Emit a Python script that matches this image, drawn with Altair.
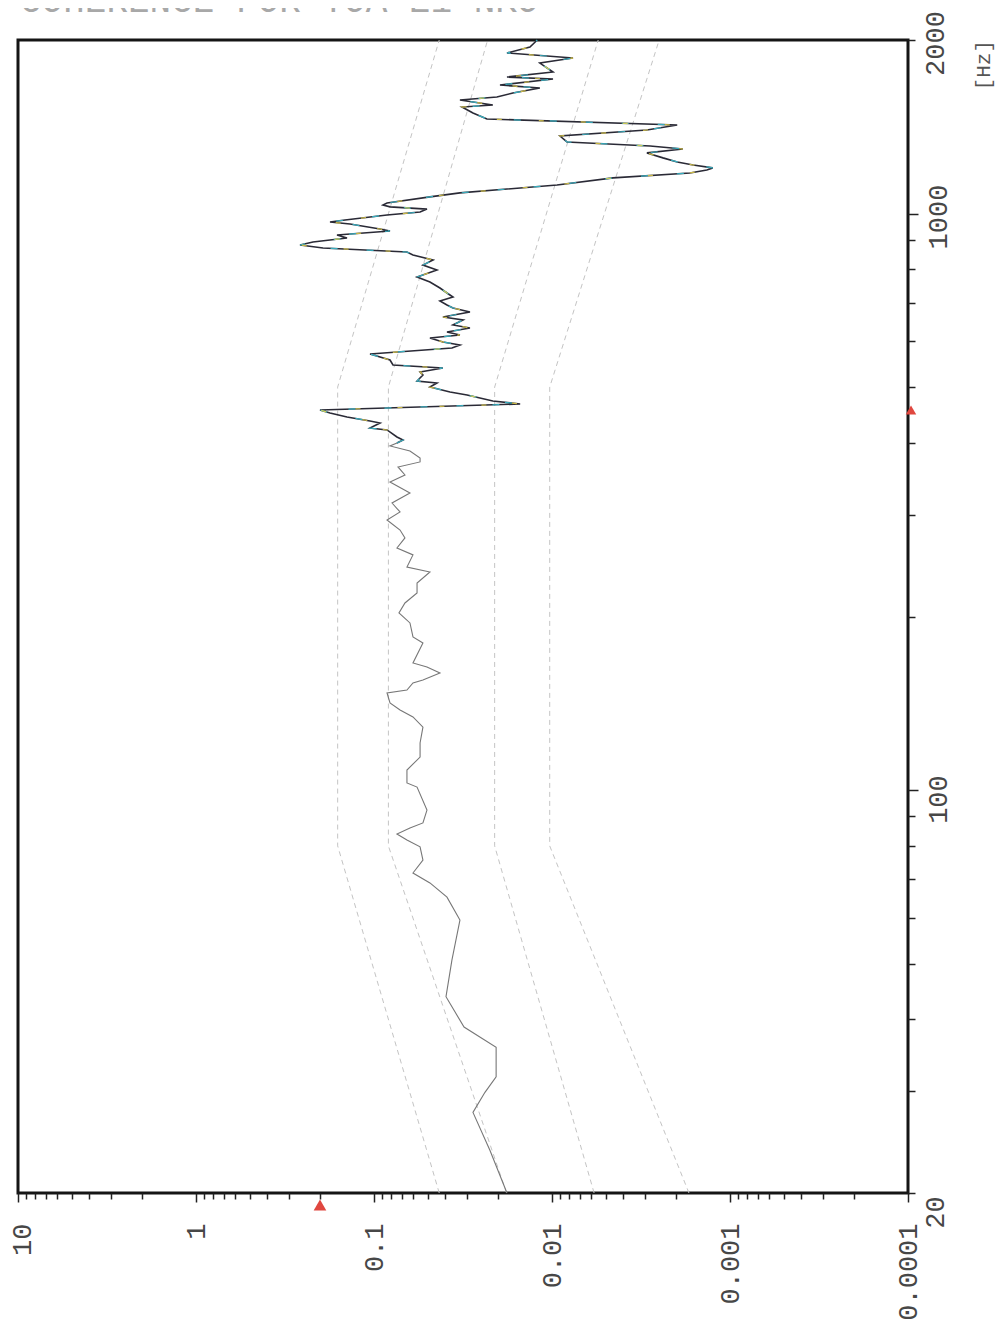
import altair as alt
import pandas as pd

# ---------------- data ----------------
freq_hz = [20, 23.7, 27.6, 29.9, 31.8, 35.8, 38.8, 43.8, 50.7, 59.5,
           65.2, 69.0, 71.8, 75.6, 79.7, 81.9, 83.9, 85.9, 87.7, 92.3,
           101.2, 102.9, 108.3, 114.1, 120.7, 128.6, 133.9, 137.7, 141.6, 147.4,
           149.1, 153.4, 155.2, 159.6, 163.5, 166.1, 179.9, 184.3, 194.9, 202.8,
           211.1, 219.7, 228.6, 238.9, 243.7, 255.8, 263.0, 273.7, 282.5, 294.1,
           303.6, 314.7, 327.6, 342.3, 352.0, 363.4, 370.8, 376.7, 387.4, 395.2,
           400.0, 404.8, 409.7, 421.3, 424.6, 433.2, 436.7, 443.7, 450.9, 456.3,
           467.4, 473.0, 484.4, 490.3, 500.2, 508.2, 512.3, 524.7, 531.0, 539.6,
           546.2, 557.1, 570.6, 584.5, 591.5, 598.6, 608.3, 615.7, 623.1, 633.0,
           640.7, 653.6, 661.5, 674.9, 685.7, 694.0, 705.2, 716.5, 728.0, 742.7,
           760.7, 776.1, 798.0, 814.2, 830.7, 847.4, 857.6, 871.5, 882.0, 892.6,
           899.8, 906.9, 917.8, 932.7, 940.1, 959.1, 966.8, 974.5, 994.2, 1006,
           1018, 1027, 1035, 1043, 1069, 1086, 1121, 1153, 1176, 1190,
           1200, 1214, 1229, 1249, 1274, 1294, 1310, 1331, 1363, 1396,
           1424, 1459, 1494, 1530, 1543, 1574, 1593, 1618, 1651, 1671,
           1711, 1725, 1760, 1824, 1861, 1899, 1945, 2000]

values = [0.0179, 0.0223, 0.0278, 0.0238, 0.0206, 0.0206, 0.0312, 0.0394, 0.0365, 0.0329,
          0.0389, 0.0485, 0.0604, 0.0531, 0.0551, 0.0653, 0.0743, 0.0628, 0.0531, 0.0504,
          0.0573, 0.0653, 0.0653, 0.0551, 0.0551, 0.0531, 0.0604, 0.0714, 0.0813, 0.0845,
          0.0653, 0.0604, 0.0531, 0.0426, 0.0504, 0.0604, 0.0531, 0.0604, 0.0628, 0.0724,
          0.0670, 0.0573, 0.0573, 0.0485, 0.0653, 0.0604, 0.0743, 0.0670, 0.0714, 0.0845,
          0.0714, 0.0792, 0.0628, 0.0813, 0.0670, 0.0733, 0.0551, 0.0551, 0.0628, 0.0813,
          0.0743, 0.0687, 0.0743, 0.0845, 0.1053, 0.0925, 0.1053, 0.1418, 0.1767, 0.2011,
          0.0151, 0.0215, 0.0300, 0.0374, 0.0485, 0.0443, 0.0573, 0.0531, 0.0551, 0.0410,
          0.0782, 0.0813, 0.1053, 0.0365, 0.0329, 0.0410, 0.0485, 0.0329, 0.0389, 0.0289,
          0.0360, 0.0316, 0.0410, 0.0289, 0.0360, 0.0389, 0.0426, 0.0360, 0.0389, 0.0426,
          0.0485, 0.0573, 0.0443, 0.0531, 0.0466, 0.0604, 0.0653, 0.1934, 0.2604, 0.2202,
          0.1767, 0.1418, 0.1614, 0.0813, 0.0925, 0.1364, 0.1767, 0.1455, 0.0845, 0.0551,
          0.0504, 0.0813, 0.0890, 0.0845, 0.0485, 0.0329, 0.00937, 0.00454, 0.00168, 0.00135,
          0.00125, 0.00161, 0.00198, 0.00238, 0.00293, 0.00184, 0.00281, 0.00824, 0.00902, 0.00293,
          0.00198, 0.0232, 0.0278, 0.0320, 0.0215, 0.0329, 0.0204, 0.0166, 0.0117, 0.0196,
          0.00987, 0.0179, 0.00987, 0.0117, 0.00762, 0.0179, 0.0133, 0.0121]

split_hz = 400.0  # trace printed grey below, dark/colour above

# faint dashed reference curves (breakpoints)
curve_freq = [20, 80, 500, 2000]
curve_a = [0.043, 0.16, 0.16, 0.043]
curve_b = [0.018, 0.083, 0.083, 0.023]
curve_c = [0.0058, 0.021, 0.021, 0.0055]
curve_d = [0.0017, 0.0103, 0.0103, 0.0025]

# cursor markers
peak_freq = [456.3]
peak_val = [0.2011]

# axis ticks / labels
value_ticks = [0.0001, 0.0002, 0.0003, 0.0004, 0.0005, 0.0006, 0.0007, 0.0008, 0.0009,
               0.001, 0.002, 0.003, 0.004, 0.005, 0.006, 0.007, 0.008, 0.009,
               0.01, 0.02, 0.03, 0.04, 0.05, 0.06, 0.07, 0.08, 0.09,
               0.1, 0.2, 0.3, 0.4, 0.5, 0.6, 0.7, 0.8, 0.9,
               1, 2, 3, 4, 5, 6, 7, 8, 9, 10]
value_labels = [0.0001, 0.001, 0.01, 0.1, 1, 10]
freq_ticks = [20, 30, 40, 50, 60, 70, 80, 90, 100, 200, 300, 400, 500, 600, 700, 800, 900, 1000, 2000]
freq_labels = [20, 100, 1000, 2000]
freq_unit = "[Hz]"
header_text = "COHERENCE  FOR TOA  E1       NKO"

# ---------------- tables ----------------
main = pd.DataFrame({"f": freq_hz, "v": values})
low = main[main.f <= split_hz]
high = main[main.f >= split_hz]

curves = pd.concat([
    pd.DataFrame({"f": curve_freq, "v": c, "curve": name})
    for name, c in [("a", curve_a), ("b", curve_b), ("c", curve_c), ("d", curve_d)]
])
peak = pd.DataFrame({"f": peak_freq, "v": peak_val})

W, H = 890, 1153
FONT = "Liberation Mono"

vl_list = "[" + ",".join(repr(v) for v in value_labels) + "]"
fl_list = "[" + ",".join(str(v) for v in freq_labels) + "]"


def X():
    return alt.X("v:Q",
                 scale=alt.Scale(type="log", domain=[0.0001, 10], reverse=True, nice=False),
                 axis=alt.Axis(orient="bottom", values=value_ticks, title=None,
                               labelAngle=270, labelAlign="right", labelBaseline="middle",
                               labelPadding=21, labelOverlap=False, labelBound=False,
                               labelOffset={"condition": {"test": "datum.value == 10", "value": 4},
                                            "value": 0},
                               labelExpr=f"indexof({vl_list}, datum.value) >= 0 ? "
                                         f"(datum.value >= 1 ? format(datum.value, 'd') : format(datum.value, '.4~f')) : ''",
                               tickSize={"condition": {"test": f"indexof({vl_list}, datum.value) >= 0", "value": 9},
                                         "value": 6}))


def Y():
    return alt.Y("f:Q",
                 scale=alt.Scale(type="log", domain=[20, 2000], nice=False),
                 axis=alt.Axis(orient="right", values=freq_ticks, title=None,
                               labelAngle=270, labelAlign="center", labelBaseline="top",
                               labelPadding=7, labelOverlap=False, labelBound=False,
                               labelOffset={"condition": [{"test": "datum.value == 20", "value": 19},
                                                          {"test": "datum.value == 100", "value": 9}],
                                            "value": 3},
                               labelExpr=f"indexof({fl_list}, datum.value) >= 0 ? format(datum.value, 'd') : ''",
                               tickSize={"condition": {"test": "datum.value == 100 || datum.value == 1000", "value": 10},
                                         "value": 7}))


ref_lines = alt.Chart(curves).mark_line(color="#c4c4c4", strokeWidth=1, strokeDash=[5, 4]).encode(
    x=X(), y=Y(), detail="curve:N", order="f:Q")

low_line = alt.Chart(low).mark_line(color="#777777", strokeWidth=1.1).encode(
    x=X(), y=Y(), order="f:Q")

high_line = alt.Chart(high).mark_line(color="#2a2a36", strokeWidth=1.6).encode(
    x=X(), y=Y(), order="f:Q")

high_cyan = alt.Chart(high).mark_line(color="#3cc4d6", strokeWidth=1.2, strokeDash=[7, 29], opacity=0.85).encode(
    x=X(), y=Y(), order="f:Q")

high_yellow = alt.Chart(high).mark_line(color="#e6d24a", strokeWidth=1.2, strokeDash=[5, 37],
                                        strokeDashOffset=17, opacity=0.85).encode(
    x=X(), y=Y(), order="f:Q")

marker_bottom = alt.Chart(peak).mark_point(shape="triangle-up", filled=True, color="#e0473f",
                                           size=160, opacity=1).encode(
    x=X(), y=alt.value(H + 12))

marker_right = alt.Chart(peak).mark_point(shape="triangle-up", filled=True, color="#e0473f",
                                          size=110, opacity=1).encode(
    y=Y(), x=alt.value(W + 3))

unit = alt.Chart(pd.DataFrame({"t": [freq_unit]})).mark_text(
    font=FONT, fontSize=21, color="#555555", angle=270, align="right", baseline="middle").encode(
    text="t:N", x=alt.value(W + 76), y=alt.value(0))

header = alt.Chart(pd.DataFrame({"t": [header_text]})).mark_text(
    font=FONT, fontSize=36, color="#a8a8a8", align="left", baseline="alphabetic").encode(
    text="t:N", x=alt.value(2), y=alt.value(-28))

chart = alt.layer(ref_lines, low_line, high_line, high_cyan, high_yellow,
                  marker_bottom, marker_right, unit, header).properties(
    width=W, height=H,
    autosize=alt.AutoSizeParams(type="none"),
    padding={"left": 10, "top": 32, "right": 90, "bottom": 132},
    background="white",
).configure_view(
    stroke="#151515", strokeWidth=3
).configure_axis(
    domain=False, grid=False, labelFont=FONT, labelFontSize=27, labelColor="#474747",
    tickColor="#222222", tickWidth=1.5
)

chart.save("out.html", embed_options={"renderer": "svg", "actions": False})
